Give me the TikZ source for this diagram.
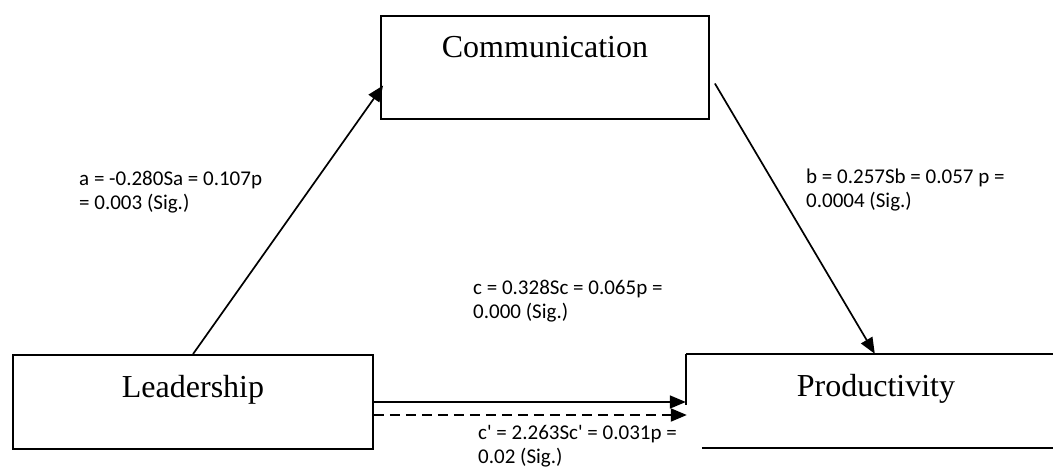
\documentclass[tikz,border=0pt]{standalone}
\usepackage{fontspec}
\setmainfont{Liberation Serif}
\newfontfamily\labfont{Carlito}[Ligatures=TeXOff]
\usetikzlibrary{arrows.meta,calc}
\begin{document}
\begin{tikzpicture}[x=1pt,y=-1pt,
  box/.style={draw, line width=1.8pt, inner sep=0pt},
  edge/.style={line width=1.8pt},
  boxtext/.style={font=\fontsize{32}{36}\selectfont, anchor=base, inner sep=0pt},
  lab/.style={font=\labfont\fontsize{21}{24}\selectfont, anchor=base west, align=left, inner sep=0pt},
  arr/.style={line width=1.7pt, -{Triangle[length=16pt,width=13pt]}}]
\useasboundingbox (0,0) rectangle (1053,471);
\fill[white] (0,0) rectangle (1053,471);
% boxes
\node[box, minimum width=328pt, minimum height=103pt] (comm) at (545,67.5) {};
\node[box, minimum width=360pt, minimum height=94pt] (lead) at (193,402) {};
\node[minimum width=367pt, minimum height=94pt, inner sep=0pt] (prod) at (869.5,401) {};
\draw[edge] (prod.north west) -- (prod.north east);
\draw[edge] (prod.north west) -- ($(prod.north west)+(0,51)$);
\draw[edge] ($(prod.south west)+(16,0)$) -- (prod.south east);
% box texts
\node[boxtext] (commt) at (545,57) {Communication};
\node[boxtext] (leadt) at (193,397) {Leadership};
\node[boxtext] (prodt) at (876,396) {Productivity};
% arrows
\draw[arr] (lead.north) -- ($(comm.west)+(3,18)$);
\draw[arr] ($(comm.east)+(5,16)$) -- ($(prod.north west)+(189,0)$);
\draw[arr] (lead.east) -- (lead.east -| prod.west);
\draw[arr, line width=2pt, dash pattern=on 10pt off 6pt] ($(lead.east)+(0,13)$) -- ($(lead.east -| prod.west)+(1,13)$);
% labels (anchored at the baseline of their last line)
\node[lab] (la) at (79,209) {a = -0.280Sa = 0.107p\\= 0.003 (Sig.)};
\node[lab] (lb) at (806,207) {b = 0.257Sb = 0.057 p =\\0.0004 (Sig.)};
\node[lab] (lc) at (473,318) {c = 0.328Sc = 0.065p =\\0.000 (Sig.)};
\node[lab] (lcp) at (478,463) {c' = 2.263Sc' = 0.031p =\\0.02 (Sig.)};
\end{tikzpicture}
\end{document}
